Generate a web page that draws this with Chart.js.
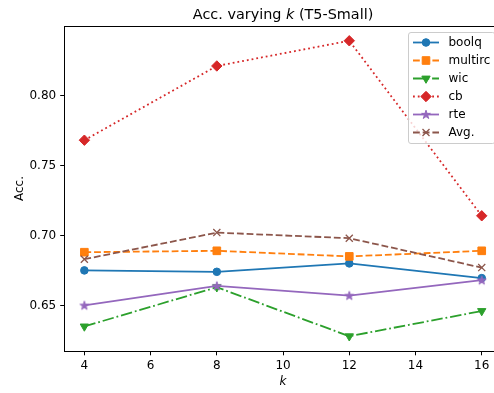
<!DOCTYPE html>
<html>
<head>
<meta charset="utf-8">
<script src="https://cdn.jsdelivr.net/npm/chart.js@4"></script>
<style>
  html, body { margin: 0; padding: 0; background: #fff; }
  #wrap { width: 494px; height: 393px; overflow: hidden; position: relative; }
  canvas { display: block; }
</style>
</head>
<body>
<div id="wrap"><canvas id="chart" width="520" height="393"></canvas></div>
<script>
// values
const K_VALUES = [4, 8, 12, 16];
const BOOLQ = [0.675, 0.674, 0.680, 0.6695];
const MULTIRC = [0.688, 0.689, 0.685, 0.689];
const WIC = [0.635, 0.663, 0.628, 0.646];
const CB = [0.768, 0.821, 0.839, 0.714];
const RTE = [0.650, 0.664, 0.657, 0.668];
const AVG = [0.683, 0.702, 0.698, 0.677];

const X_TICKS = [4, 6, 8, 10, 12, 14, 16];
const Y_TICKS = [0.65, 0.70, 0.75, 0.80];

const FONT = "'DejaVu Sans', sans-serif";

// matplotlib-like 5% margins
const allY = [].concat(BOOLQ, MULTIRC, WIC, CB, RTE, AVG);
const yLo = Math.min(...allY), yHi = Math.max(...allY);
const xLo = Math.min(...K_VALUES), xHi = Math.max(...K_VALUES);
const Y_MIN = yLo - 0.05 * (yHi - yLo);
const Y_MAX = yHi + 0.05 * (yHi - yLo);
const X_MIN = xLo - 0.05 * (xHi - xLo);
const X_MAX = xHi + 0.05 * (xHi - xLo);

function starPath(ctx, cx, cy, outer) {
  const inner = outer * 0.382;
  ctx.beginPath();
  for (let i = 0; i < 10; i++) {
    const r = i % 2 === 0 ? outer : inner;
    const a = -Math.PI / 2 + i * Math.PI / 5;
    const px = cx + r * Math.cos(a), py = cy + r * Math.sin(a);
    if (i === 0) ctx.moveTo(px, py); else ctx.lineTo(px, py);
  }
  ctx.closePath();
}

function makeStar(color) {
  const c = document.createElement("canvas");
  c.width = 12; c.height = 12;
  const g = c.getContext("2d");
  starPath(g, 6, 6.3, 4.6);
  g.fillStyle = color; g.fill();
  g.strokeStyle = color; g.lineWidth = 1; g.stroke();
  return c;
}

const SERIES = [
  { label: "boolq", data: BOOLQ, color: "#1f77b4", marker: "circle", dash: [] },
  { label: "multirc", data: MULTIRC, color: "#ff7f0e", marker: "square", dash: [6.8, 2.9] },
  { label: "wic", data: WIC, color: "#2ca02c", marker: "tridown", dash: [11.5, 2.9, 1.8, 2.9] },
  { label: "cb", data: CB, color: "#d62728", marker: "diamond", dash: [1.8, 3] },
  { label: "rte", data: RTE, color: "#9467bd", marker: "star", dash: [] },
  { label: "Avg.", data: AVG, color: "#8c564b", marker: "x", dash: [6.8, 2.9] },
];

function pointOpts(s) {
  switch (s.marker) {
    case "circle": return { pointStyle: "circle", pointRadius: 3.8, pointBorderWidth: 1 };
    case "square": return { pointStyle: "rect", pointRadius: 5.4, pointBorderWidth: 1 };
    case "tridown": return { pointStyle: "triangle", pointRotation: 180, pointRadius: 4.8, pointBorderWidth: 1 };
    case "diamond": return { pointStyle: "rectRot", pointRadius: 5.2, pointBorderWidth: 1 };
    case "star": return { pointStyle: makeStar(s.color), pointRadius: 5 };
    case "x": return { pointStyle: "crossRot", pointRadius: 5, pointBorderWidth: 1.3 };
  }
}

function drawMarker(ctx, s, x, y) {
  ctx.save();
  ctx.setLineDash([]);
  ctx.fillStyle = s.color;
  ctx.strokeStyle = s.color;
  ctx.lineWidth = 1;
  ctx.beginPath();
  if (s.marker === "circle") {
    ctx.arc(x, y, 3.8, 0, Math.PI * 2);
    ctx.fill(); ctx.stroke();
  } else if (s.marker === "square") {
    ctx.rect(x - 3.8, y - 3.8, 7.6, 7.6);
    ctx.fill(); ctx.stroke();
  } else if (s.marker === "tridown") {
    const r = 4.8;
    ctx.moveTo(x, y + r);
    ctx.lineTo(x - r * 0.866, y - r / 2);
    ctx.lineTo(x + r * 0.866, y - r / 2);
    ctx.closePath();
    ctx.fill(); ctx.stroke();
  } else if (s.marker === "diamond") {
    const r = 5.2;
    ctx.moveTo(x - r, y); ctx.lineTo(x, y - r); ctx.lineTo(x + r, y); ctx.lineTo(x, y + r);
    ctx.closePath();
    ctx.fill(); ctx.stroke();
  } else if (s.marker === "star") {
    starPath(ctx, x, y + 0.3, 4.6);
    ctx.fill(); ctx.stroke();
  } else if (s.marker === "x") {
    const d = 3.5;
    ctx.lineWidth = 1.3;
    ctx.moveTo(x - d, y - d); ctx.lineTo(x + d, y + d);
    ctx.moveTo(x - d, y + d); ctx.lineTo(x + d, y - d);
    ctx.stroke();
  }
  ctx.restore();
}

const datasets = SERIES.map((s, i) => Object.assign({
  label: s.label,
  data: K_VALUES.map((k, j) => ({ x: k, y: s.data[j] })),
  borderColor: s.color,
  backgroundColor: s.color,
  pointBackgroundColor: s.color,
  pointBorderColor: s.color,
  borderWidth: 1.8,
  borderDash: s.dash,
  tension: 0,
  fill: false,
  order: SERIES.length - i,
}, pointOpts(s)));

// axes frame, title and legend drawn like matplotlib
const decor = {
  id: "decor",
  afterDatasetsDraw(chart) {
    const { ctx, chartArea: a } = chart;
    ctx.save();
    // top spine
    ctx.strokeStyle = "#000";
    ctx.lineWidth = 1;
    ctx.beginPath();
    ctx.moveTo(a.left, Math.round(a.top) + 0.5);
    ctx.lineTo(a.right, Math.round(a.top) + 0.5);
    ctx.moveTo(Math.round(a.right) - 0.5, a.top);
    ctx.lineTo(Math.round(a.right) - 0.5, a.bottom);
    ctx.stroke();

    // legend
    const bx = 408.5, by = 32.5, bw = 86.5, bh = 111, rad = 2.5;
    ctx.beginPath();
    ctx.moveTo(bx + rad, by);
    ctx.lineTo(bx + bw - rad, by);
    ctx.quadraticCurveTo(bx + bw, by, bx + bw, by + rad);
    ctx.lineTo(bx + bw, by + bh - rad);
    ctx.quadraticCurveTo(bx + bw, by + bh, bx + bw - rad, by + bh);
    ctx.lineTo(bx + rad, by + bh);
    ctx.quadraticCurveTo(bx, by + bh, bx, by + bh - rad);
    ctx.lineTo(bx, by + rad);
    ctx.quadraticCurveTo(bx, by, bx + rad, by);
    ctx.closePath();
    ctx.fillStyle = "rgba(255,255,255,0.8)";
    ctx.fill();
    ctx.strokeStyle = "#cccccc";
    ctx.lineWidth = 1;
    ctx.stroke();

    ctx.font = "12px " + FONT;
    ctx.textBaseline = "middle";
    ctx.textAlign = "left";
    SERIES.forEach((s, i) => {
      const y = 42.5 + i * 18;
      ctx.save();
      ctx.strokeStyle = s.color;
      ctx.lineWidth = 1.8;
      ctx.setLineDash(s.dash);
      ctx.beginPath();
      ctx.moveTo(413, y);
      ctx.lineTo(439, y);
      ctx.stroke();
      ctx.restore();
      drawMarker(ctx, s, 426, y);
      ctx.fillStyle = "#000";
      ctx.fillText(s.label, 448.5, y + 0.5);
    });

    // title with italic k
    const parts = [
      { t: "Acc. varying ", f: "14.4px " + FONT },
      { t: "k", f: "italic 14.4px " + FONT },
      { t: " (T5-Small)", f: "14.4px " + FONT },
    ];
    let total = 0;
    parts.forEach(p => { ctx.font = p.f; p.w = ctx.measureText(p.t).width; total += p.w; });
    let x = (a.left + a.right) / 2 - total / 2;
    ctx.textBaseline = "alphabetic";
    ctx.fillStyle = "#000";
    parts.forEach(p => { ctx.font = p.f; ctx.fillText(p.t, x, 18.5); x += p.w; });
    ctx.restore();
  }
};

const chart = new Chart(document.getElementById("chart"), {
  type: "line",
  data: { datasets },
  options: {
    responsive: false,
    animation: false,
    layout: { padding: { top: 26, right: 18.4, left: 0, bottom: 0 } },
    plugins: {
      legend: { display: false },
      tooltip: { enabled: false },
      title: { display: false },
    },
    scales: {
      x: {
        type: "linear",
        min: X_MIN,
        max: X_MAX,
        afterBuildTicks: (scale) => { scale.ticks = X_TICKS.map(v => ({ value: v })); },
        afterFit: (scale) => { scale.height = 42; },
        grid: { drawOnChartArea: false, drawTicks: true, tickLength: 4.3, color: "#000", lineWidth: 1 },
        border: { color: "#000", width: 1 },
        ticks: { color: "#000", padding: 3.5, maxRotation: 0, font: { family: FONT, size: 12 } },
        title: {
          display: true, text: "k", color: "#000", padding: { top: 0, bottom: 4 },
          font: { family: FONT, size: 12, style: "italic" },
        },
      },
      y: {
        min: Y_MIN,
        max: Y_MAX,
        afterBuildTicks: (scale) => { scale.ticks = Y_TICKS.map(v => ({ value: v })); },
        afterFit: (scale) => { scale.width = 64.5; },
        grid: { drawOnChartArea: false, drawTicks: true, tickLength: 4.3, color: "#000", lineWidth: 1 },
        border: { color: "#000", width: 1 },
        ticks: {
          color: "#000", padding: 4,
          font: { family: FONT, size: 12 },
          callback: (v) => Number(v).toFixed(2),
        },
        title: {
          display: true, text: "Acc.", color: "#000", padding: { top: 13, bottom: 0 },
          font: { family: FONT, size: 12 },
        },
      },
    },
  },
  plugins: [decor],
});
</script>
</body>
</html>
